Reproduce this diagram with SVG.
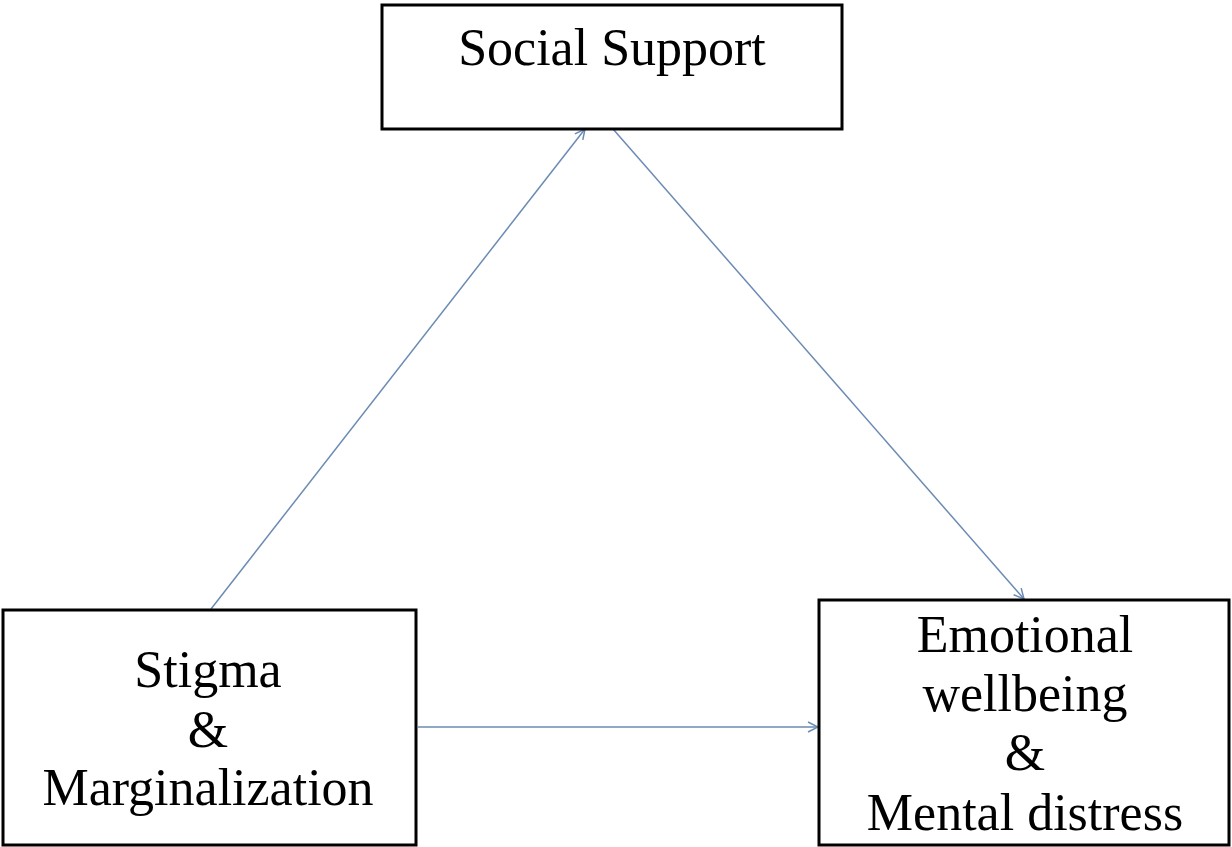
<svg xmlns="http://www.w3.org/2000/svg" width="1232" height="847" viewBox="0 0 1232 847">
<style>
.box{fill:#fff;stroke:#000;stroke-width:3}
.lbl{font-family:"Liberation Serif","Times New Roman",serif;font-size:52px;fill:#000;text-anchor:middle}
.conn{stroke:#6b8bb3;stroke-width:1.5;fill:none;marker-end:url(#arr)}
</style>
<defs>
<marker id="arr" viewBox="0 0 12 12" refX="11" refY="6" markerWidth="12" markerHeight="12" markerUnits="userSpaceOnUse" orient="auto">
<path d="M1,1 L11,6 L1,11" fill="none" stroke="#6b8bb3" stroke-width="1.5"/>
</marker>
</defs>
<rect width="1232" height="847" fill="#fff"/>
<g id="connectors">
<line class="conn" x1="211" y1="609" x2="585" y2="129"/>
<line class="conn" x1="613" y1="129" x2="1024" y2="599"/>
<line class="conn" x1="418" y1="727" x2="818" y2="727"/>
</g>
<g id="social-support">
<rect class="box" x="382" y="5" width="460" height="124"/>
<text class="lbl" x="612" y="65">Social Support</text>
</g>
<g id="stigma">
<rect class="box" x="3" y="610" width="413" height="235"/>
<text class="lbl" x="208" y="687">Stigma</text>
<text class="lbl" x="208" y="747">&amp;</text>
<text class="lbl" x="208" y="805">Marginalization</text>
</g>
<g id="emotional">
<rect class="box" x="819" y="600" width="410" height="245"/>
<text class="lbl" x="1025" y="652">Emotional</text>
<text class="lbl" x="1025" y="711">wellbeing</text>
<text class="lbl" x="1025" y="770">&amp;</text>
<text class="lbl" x="1025" y="830">Mental distress</text>
</g>
</svg>
